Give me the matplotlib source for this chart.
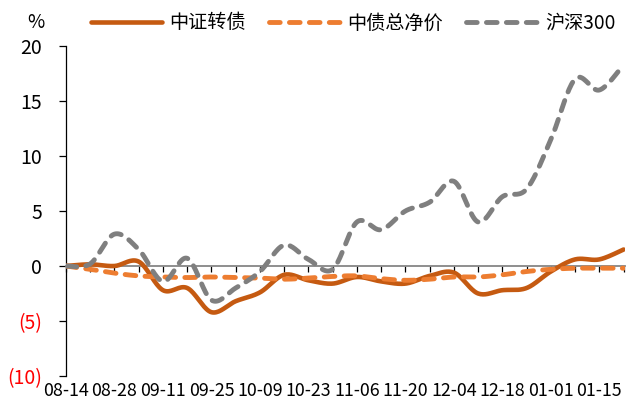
import numpy as np
import pandas as pd
import matplotlib
matplotlib.use('Agg')
import matplotlib.pyplot as plt
import matplotlib.dates as mdates

plt.rcParams['font.family'] = ['Noto Sans CJK SC', 'DejaVu Sans']

# 周度累计涨跌幅 (%)，自2019-08-14起
dates = pd.date_range('2019-08-14', periods=24, freq='7D')
cb = [0.0, 0.15, 0.0, 0.4, -2.2, -2.0, -4.2, -3.2, -2.4, -0.8, -1.3, -1.6,
      -1.0, -1.4, -1.6, -0.9, -0.6, -2.5, -2.2, -2.0, -0.5, 0.6, 0.6, 1.5]
bond = [0.0, -0.3, -0.65, -0.9, -1.0, -1.05, -1.0, -1.05, -1.1, -1.2, -1.1, -0.95,
        -0.9, -1.15, -1.3, -1.2, -1.0, -1.0, -0.8, -0.5, -0.3, -0.2, -0.2, -0.2]
hs300 = [0.0, 0.2, 2.9, 1.5, -1.4, 0.7, -3.1, -2.0, -0.5, 1.9, 0.6, -0.3,
         4.0, 3.3, 5.0, 5.8, 7.7, 4.0, 6.3, 7.0, 11.5, 17.0, 16.0, 18.3]
names = ['中证转债', '中债总净价', '沪深300']
yticks = [-10, -5, 0, 5, 10, 15, 20]

def smooth(x, y, n=20):
    # excel style smoothed line (bezier through every point)
    x = np.asarray(x, float); y = np.asarray(y, float)
    px = np.r_[x[0], x, x[-1]]; py = np.r_[y[0], y, y[-1]]
    xs, ys = [], []
    t = np.linspace(0, 1, n, endpoint=False)
    for i in range(1, len(x)):
        p0, p1, p2, p3 = [np.array([px[j], py[j]]) for j in (i-1, i, i+1, i+2)]
        c1 = p1 + (p2 - p0)/6
        c2 = p2 - (p3 - p1)/6
        for tt in t:
            b = (1-tt)**3*p1 + 3*(1-tt)**2*tt*c1 + 3*(1-tt)*tt**2*c2 + tt**3*p2
            xs.append(b[0]); ys.append(b[1])
    xs.append(x[-1]); ys.append(y[-1])
    return np.array(xs), np.array(ys)

fig = plt.figure(figsize=(6.43, 4.09), dpi=100)
ax = fig.add_axes([0.1026, 0.0807, 0.8694, 0.8068])

xd = mdates.date2num(dates)
dash = (0, (2.2, 1.9))
styles = [dict(color='#C55A11', ls='-', lw=3.3),
          dict(color='#ED7D31', ls=dash, lw=3.5),
          dict(color='#7F7F7F', ls=dash, lw=3.5)]
for vals, name, st in zip([cb, bond, hs300], names, styles):
    sx, sy = smooth(xd, vals)
    ax.plot(sx, sy, label=name, solid_capstyle='round',
            dash_capstyle='round', zorder=3, **st)

ax.set_ylim(-10, 20)
ax.set_xlim(xd[0], xd[-1] + 0.4)
ax.spines['top'].set_visible(False)
ax.spines['right'].set_visible(False)
ax.spines['left'].set_linewidth(0.9)
ax.spines['bottom'].set_position(('data', 0))
ax.spines['bottom'].set_color('#868686')
ax.spines['bottom'].set_linewidth(1.3)

ax.set_yticks(yticks)
ax.set_yticklabels([f'({-v})' if v < 0 else str(v) for v in yticks], fontsize=14)
for lab, v in zip(ax.get_yticklabels(), yticks):
    if v < 0:
        lab.set_color('red')
ax.tick_params(axis='y', direction='out', length=5, width=0.9, pad=12)

ax.set_xticks(xd)
ax.tick_params(axis='x', direction='out', length=4, width=0.9, color='black',
               labelbottom=False)

sec = ax.secondary_xaxis('bottom')
sec.set_xticks(xd[::2])
sec.set_xticklabels([d.strftime('%m-%d') for d in dates[::2]], fontsize=12.8)
sec.tick_params(length=0, pad=4)
sec.spines['bottom'].set_visible(False)

fig.legend(loc='center', bbox_to_anchor=(0.549, 0.944), ncol=3, frameon=False,
           fontsize=13.8, handlelength=3.7, handletextpad=0.4, columnspacing=1.2)
fig.text(36/643, 1 - 22/409, '%', ha='center', va='center', fontsize=13.5)

fig.savefig('out.png', dpi=100)
